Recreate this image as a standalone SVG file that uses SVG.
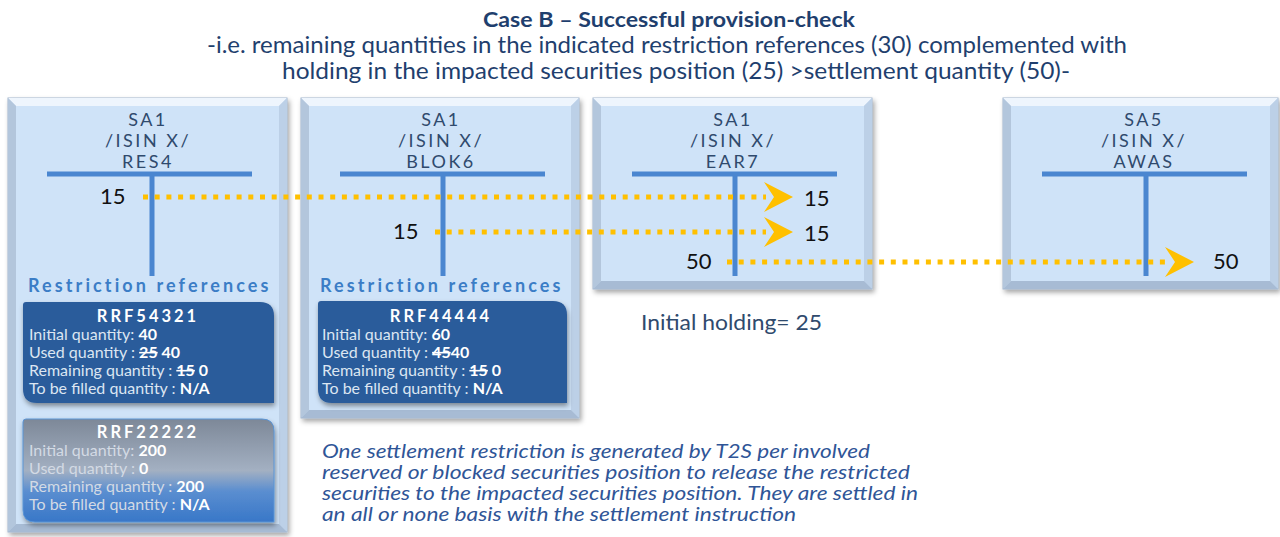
<svg xmlns="http://www.w3.org/2000/svg" width="1280" height="537" viewBox="0 0 1280 537">
<defs>
<filter id="sh" x="-10%" y="-10%" width="120%" height="120%">
<feDropShadow dx="2" dy="3" stdDeviation="2.5" flood-color="#000" flood-opacity="0.35"/>
</filter>
<filter id="sh2" x="-10%" y="-10%" width="120%" height="130%">
<feDropShadow dx="1" dy="3" stdDeviation="2.5" flood-color="#000" flood-opacity="0.4"/>
</filter>
<linearGradient id="g2" x1="0" y1="0" x2="0" y2="1">
<stop offset="0" stop-color="#7D8898"/>
<stop offset="0.5" stop-color="#A3B0C2"/>
<stop offset="0.7" stop-color="#5B8ED0"/>
<stop offset="1" stop-color="#3877C8"/>
</linearGradient>
</defs>
<style>
.hdr{font-family:"Lato","Liberation Sans",sans-serif;font-size:18px;fill:#2F4A6D;letter-spacing:2.5px;text-anchor:middle}
.num{font-family:"Lato","Liberation Sans",sans-serif;font-size:22px;fill:#111}
.rr{font-family:"Lato","Liberation Sans",sans-serif;font-size:18px;fill:#3B7DC6;letter-spacing:1.6px;font-weight:bold}
.bt{font-family:"Lato","Liberation Sans",sans-serif;font-size:16.5px;font-weight:bold;fill:#fff;letter-spacing:3px;text-anchor:middle}
.bl{font-family:"Lato","Liberation Sans",sans-serif;font-size:16px;fill:#DCE6F2}
.bl2{font-family:"Lato","Liberation Sans",sans-serif;font-size:16px;fill:#D3DAE4}
.v{font-weight:bold;fill:#fff}
.st{text-decoration:line-through}
.tbar{stroke:#4A86D0;stroke-width:5;fill:none}
.dot{stroke:#FFC000;stroke-width:5;stroke-dasharray:5 6.7;fill:none}
.ttl{font-family:"Lato","Liberation Sans",sans-serif;fill:#1F3F6E;text-anchor:middle}
.it{font-family:"Lato","Liberation Sans",sans-serif;font-style:italic;font-size:19px;fill:#2F5597}
.bevT{fill:#EEF5FD}.bevL{fill:#B3C6DC}.bevR{fill:#BCD0E7}.bevB{fill:#A7BBD4}.pin{fill:#CFE3F8}
</style>
<rect width="1280" height="537" fill="#fff"/>

<g id="title">
<text class="ttl" x="669" y="27" font-size="21" font-weight="bold" textLength="372" lengthAdjust="spacingAndGlyphs">Case B – Successful  provision-check</text>
<text class="ttl" x="667" y="53" font-size="22.5" textLength="920" lengthAdjust="spacingAndGlyphs">-i.e. remaining quantities in the indicated restriction references (30) complemented with</text>
<text class="ttl" x="676" y="79" font-size="22.5" textLength="788" lengthAdjust="spacingAndGlyphs">holding in the impacted securities position (25) &gt;settlement quantity (50)-</text>
</g>

<g id="panel-res4">
<g filter="url(#sh)"><rect x="8" y="98" width="279" height="434" fill="#C3D7EE" stroke="#9FB3CB"/></g>
<polygon class="bevT" points="8,98 287,98 279,106 16,106"/>
<polygon class="bevL" points="8,98 16,106 16,524 8,532"/>
<polygon class="bevR" points="287,98 279,106 279,524 287,532"/>
<polygon class="bevB" points="8,532 16,524 279,524 287,532"/>
<rect class="pin" x="16" y="106" width="263" height="418"/>
<text class="hdr" x="148" y="126">SA1</text>
<text class="hdr" x="148" y="147">/ISIN X/</text>
<text class="hdr" x="148" y="168">RES4</text>
<path class="tbar" d="M47,174 H252 M152,174 V276"/>
<text class="num" x="100" y="204">15</text>
<text class="rr" x="28" y="292" textLength="242">Restriction references</text>
<g id="rrf54321">
<path filter="url(#sh2)" d="M26,302 H260 Q274,302 274,316 V403 H37 Q23,403 23,389 V305 Q23,302 26,302 Z" fill="#2B5C9B"/>
<text class="bt" x="148" y="322">RRF54321</text>
<text class="bl" x="29" y="340">Initial quantity: <tspan class="v">40</tspan></text>
<text class="bl" x="29" y="358">Used quantity : <tspan class="v st">25</tspan><tspan class="v"> 40</tspan></text>
<text class="bl" x="29" y="376">Remaining quantity : <tspan class="v st">15</tspan><tspan class="v"> 0</tspan></text>
<text class="bl" x="29" y="394">To be filled quantity : <tspan class="v">N/A</tspan></text>
</g>
<g id="rrf22222">
<path filter="url(#sh2)" d="M26,419 H262 Q274,419 274,431 V522 H35 Q23,522 23,510 V422 Q23,419 26,419 Z" fill="url(#g2)" stroke="#5B94D4" stroke-width="1"/>
<text class="bt" x="148" y="438">RRF22222</text>
<text class="bl2" x="29" y="456">Initial quantity: <tspan class="v">200</tspan></text>
<text class="bl2" x="29" y="474">Used quantity : <tspan class="v">0</tspan></text>
<text class="bl2" x="29" y="492">Remaining quantity : <tspan class="v">200</tspan></text>
<text class="bl2" x="29" y="510">To be filled quantity : <tspan class="v">N/A</tspan></text>
</g>
</g>

<g id="panel-blok6">
<g filter="url(#sh)"><rect x="301" y="98" width="278" height="320" fill="#C3D7EE" stroke="#9FB3CB"/></g>
<polygon class="bevT" points="301,98 579,98 571,106 309,106"/>
<polygon class="bevL" points="301,98 309,106 309,410 301,418"/>
<polygon class="bevR" points="579,98 571,106 571,410 579,418"/>
<polygon class="bevB" points="301,418 309,410 571,410 579,418"/>
<rect class="pin" x="309" y="106" width="262" height="304"/>
<text class="hdr" x="441" y="126">SA1</text>
<text class="hdr" x="441" y="147">/ISIN X/</text>
<text class="hdr" x="441" y="168">BLOK6</text>
<path class="tbar" d="M340,174 H545 M443,174 V276"/>
<text class="num" x="393" y="239">15</text>
<text class="rr" x="320" y="292" textLength="242">Restriction references</text>
<g id="rrf44444">
<path filter="url(#sh2)" d="M321,301 H553 Q567,301 567,315 V403 H332 Q318,403 318,389 V304 Q318,301 321,301 Z" fill="#2B5C9B"/>
<text class="bt" x="441" y="322">RRF44444</text>
<text class="bl" x="322" y="340">Initial quantity: <tspan class="v">60</tspan></text>
<text class="bl" x="322" y="358">Used quantity : <tspan class="v st">45</tspan><tspan class="v">40</tspan></text>
<text class="bl" x="322" y="376">Remaining quantity : <tspan class="v st">15</tspan><tspan class="v"> 0</tspan></text>
<text class="bl" x="322" y="394">To be filled quantity : <tspan class="v">N/A</tspan></text>
</g>
</g>

<g id="panel-ear7">
<g filter="url(#sh)"><rect x="593" y="98" width="279" height="191" fill="#C3D7EE" stroke="#9FB3CB"/></g>
<polygon class="bevT" points="593,98 872,98 864,106 601,106"/>
<polygon class="bevL" points="593,98 601,106 601,281 593,289"/>
<polygon class="bevR" points="872,98 864,106 864,281 872,289"/>
<polygon class="bevB" points="593,289 601,281 864,281 872,289"/>
<rect class="pin" x="601" y="106" width="263" height="175"/>
<text class="hdr" x="733" y="126">SA1</text>
<text class="hdr" x="733" y="147">/ISIN X/</text>
<text class="hdr" x="733" y="168">EAR7</text>
<path class="tbar" d="M632,174 H837 M735,174 V276"/>
<text class="num" x="804" y="206">15</text>
<text class="num" x="804" y="241">15</text>
<text class="num" x="686" y="269">50</text>
<text x="641" y="330" font-family="Lato, 'Liberation Sans', sans-serif" font-size="22" fill="#2F4A6D" textLength="181" lengthAdjust="spacingAndGlyphs">Initial holding= 25</text>
</g>

<g id="panel-awas">
<g filter="url(#sh)"><rect x="1003" y="98" width="275" height="191" fill="#C3D7EE" stroke="#9FB3CB"/></g>
<polygon class="bevT" points="1003,98 1278,98 1270,106 1011,106"/>
<polygon class="bevL" points="1003,98 1011,106 1011,281 1003,289"/>
<polygon class="bevR" points="1278,98 1270,106 1270,281 1278,289"/>
<polygon class="bevB" points="1003,289 1011,281 1270,281 1278,289"/>
<rect class="pin" x="1011" y="106" width="259" height="175"/>
<text class="hdr" x="1144" y="126">SA5</text>
<text class="hdr" x="1144" y="147">/ISIN X/</text>
<text class="hdr" x="1144" y="168">AWAS</text>
<path class="tbar" d="M1042,174 H1247 M1146,174 V276"/>
<text class="num" x="1213" y="269">50</text>
</g>

<g id="connectors">
<line class="dot" x1="143" y1="197" x2="766" y2="197"/>
<line class="dot" x1="435" y1="232" x2="766" y2="232"/>
<line class="dot" x1="727" y1="262" x2="1168" y2="262"/>
<path d="M764,182 L793,197 L764,212 L774,197 Z" fill="#FFC000"/>
<path d="M764,217 L793,232 L764,247 L774,232 Z" fill="#FFC000"/>
<path d="M1165,247 L1194,262 L1165,277 L1175,262 Z" fill="#FFC000"/>
</g>

<g id="note">
<text class="it" x="322" y="458" textLength="548" lengthAdjust="spacingAndGlyphs">One settlement restriction is generated by T2S per involved</text>
<text class="it" x="322" y="479" textLength="588" lengthAdjust="spacingAndGlyphs">reserved  or blocked securities position to release the restricted</text>
<text class="it" x="322" y="500" textLength="596" lengthAdjust="spacingAndGlyphs">securities to the impacted securities position. They are settled in</text>
<text class="it" x="322" y="521" textLength="474" lengthAdjust="spacingAndGlyphs">an all or none basis with the settlement instruction</text>
</g>
</svg>
